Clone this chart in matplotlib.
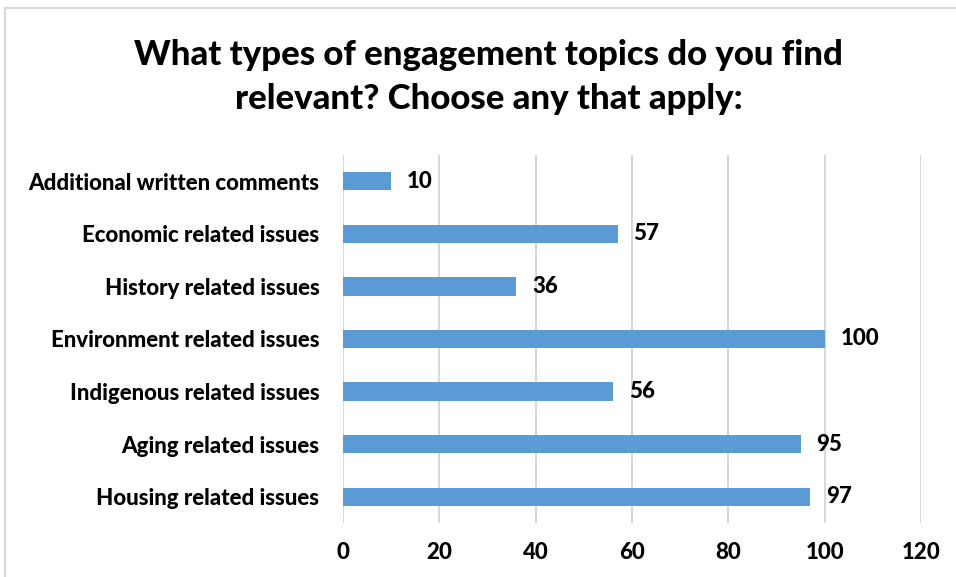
import matplotlib
matplotlib.use("Agg")
import matplotlib.pyplot as plt
from matplotlib.patches import Rectangle

# survey responses, bottom to top
topics = ["Housing related issues", "Aging related issues", "Indigenous related issues",
          "Environment related issues", "History related issues",
          "Economic related issues", "Additional written comments"]
counts = [97, 95, 56, 100, 36, 57, 10]
xticks = [0, 20, 40, 60, 80, 100, 120]

plt.rcParams['font.family'] = ['Lato', 'DejaVu Sans']
WEIGHT = "black"

fig = plt.figure(figsize=(9.56, 5.77), dpi=100)
ax = fig.add_axes([0.3588, 0.0936, 0.6046, 0.6378])

# light frame around the chart area
fig.patches.append(Rectangle((5 / 956, -0.1), 1.2, 1 - 8 / 577 + 0.1,
                             transform=fig.transFigure, fill=False,
                             edgecolor="#d9d9d9", linewidth=1.5))

ypos = range(len(topics))
ax.barh(ypos, counts, height=0.35, color="#5b9bd5", zorder=3)
for y, v in zip(ypos, counts):
    ax.text(v + 3.3, y, str(v), va="center", ha="left", fontsize=16,
            fontweight=WEIGHT, color="black")

ax.set_xlim(0, 120)
ax.set_ylim(-0.5, len(topics) - 0.5)
ax.set_xticks(xticks)
ax.set_yticks(list(ypos))
ax.set_yticklabels(topics)
ax.tick_params(length=0, labelsize=16, labelcolor="black")
ax.tick_params(axis="x", pad=14)
ax.tick_params(axis="y", pad=17)
for lbl in ax.get_xticklabels() + ax.get_yticklabels():
    lbl.set_fontweight(WEIGHT)
ax.grid(axis="x", color="#d9d9d9", linewidth=1.5, zorder=0)
for s in ax.spines.values():
    s.set_visible(False)

fig.text(0.511, 0.8666, "What types of engagement topics do you find\nrelevant? Choose any that apply:",
         ha="center", va="center", fontsize=25, fontweight=WEIGHT,
         linespacing=1.44)

fig.savefig("out.png", dpi=100)
